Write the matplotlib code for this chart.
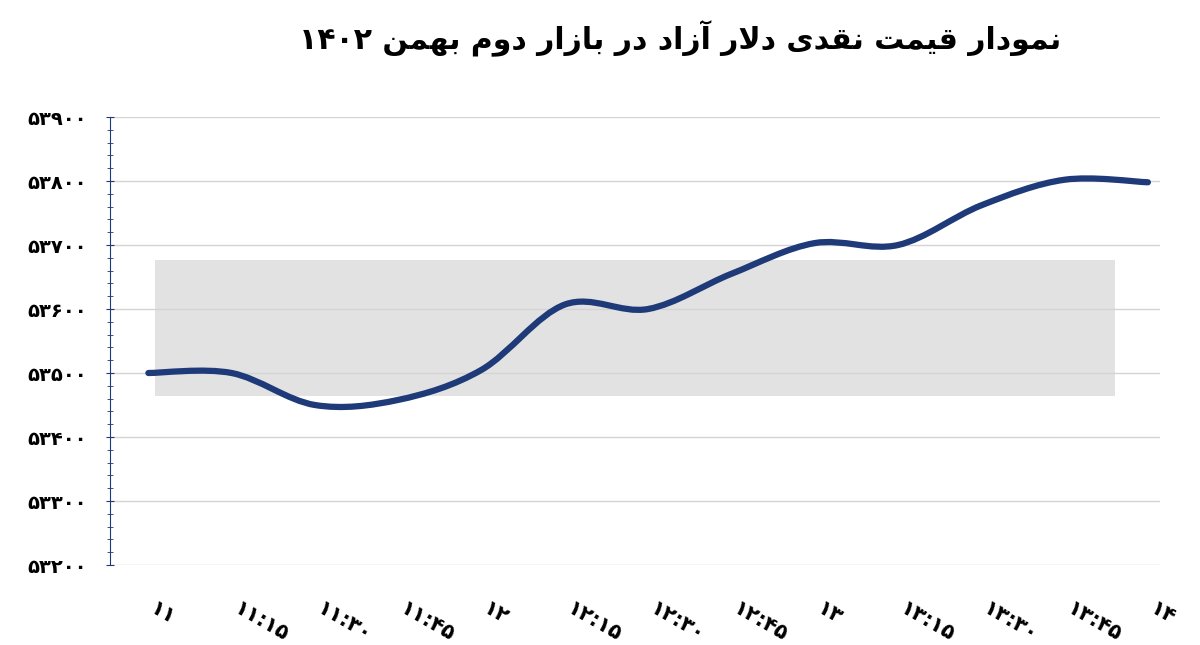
import matplotlib
matplotlib.use("Agg")
import matplotlib.pyplot as plt
from matplotlib.path import Path
from matplotlib.patches import PathPatch, Rectangle
from matplotlib.ticker import MultipleLocator
import numpy as np

times = ["۱۱", "۱۱:۱۵", "۱۱:۳۰", "۱۱:۴۵", "۱۲", "۱۲:۱۵", "۱۲:۳۰", "۱۲:۴۵",
         "۱۳", "۱۳:۱۵", "۱۳:۳۰", "۱۳:۴۵", "۱۴"]
prices = [53500, 53500, 53450, 53458, 53505, 53607, 53600, 53655,
          53703, 53700, 53762, 53802, 53798]
yticks = [53200, 53300, 53400, 53500, 53600, 53700, 53800, 53900]
title = "نمودار قیمت نقدی دلار آزاد در بازار دوم بهمن ۱۴۰۲"

FORMS = {  # iso, fin, ini, med
    'ا': (0xFE8D, 0xFE8E, None, None), 'آ': (0xFE81, 0xFE82, None, None),
    'ب': (0xFE8F, 0xFE90, 0xFE91, 0xFE92), 'ت': (0xFE95, 0xFE96, 0xFE97, 0xFE98),
    'د': (0xFEA9, 0xFEAA, None, None), 'ر': (0xFEAD, 0xFEAE, None, None),
    'ز': (0xFEAF, 0xFEB0, None, None), 'ق': (0xFED5, 0xFED6, 0xFED7, 0xFED8),
    'ل': (0xFEDD, 0xFEDE, 0xFEDF, 0xFEE0), 'م': (0xFEE1, 0xFEE2, 0xFEE3, 0xFEE4),
    'ن': (0xFEE5, 0xFEE6, 0xFEE7, 0xFEE8), 'ه': (0xFEE9, 0xFEEA, 0xFEEB, 0xFEEC),
    'و': (0xFEED, 0xFEEE, None, None), 'ی': (0xFEEF, 0xFEF0, 0xFEF3, 0xFEF4),
}

def shape_word(w):
    if w[0] not in FORMS:
        return w
    letters = []
    i = 0
    while i < len(w):
        if w[i] == 'ل' and i + 1 < len(w) and w[i+1] == 'ا':
            letters.append('LA'); i += 2
        else:
            letters.append(w[i]); i += 1
    def joins_next(c):
        return c != 'LA' and FORMS[c][2] is not None
    out = []
    for k, c in enumerate(letters):
        prev = k > 0 and joins_next(letters[k-1])
        nxt = k + 1 < len(letters) and joins_next(c)
        if c == 'LA':
            out.append(chr(0xFEFC if prev else 0xFEFB)); continue
        f = FORMS[c]
        if prev and nxt: code = f[3]
        elif prev: code = f[1]
        elif nxt: code = f[2]
        else: code = f[0]
        out.append(chr(code))
    return ''.join(out)[::-1]

def rtl(s):
    return ' '.join(shape_word(w) for w in s.split(' ')[::-1])

fig = plt.figure(figsize=(12, 6.45), dpi=100)
ax = fig.add_axes([0.092, 0.124, 0.875, 0.6946])
x = np.arange(len(prices))
y = np.array(prices, dtype=float)

verts = [(x[0], y[0])]
codes = [Path.MOVETO]
for i in range(len(x) - 1):
    p0 = (x[max(i-1, 0)], y[max(i-1, 0)])
    p1 = (x[i], y[i]); p2 = (x[i+1], y[i+1])
    p3 = (x[min(i+2, len(x)-1)], y[min(i+2, len(x)-1)])
    c1 = (p1[0] + (p2[0]-p0[0])/6, p1[1] + (p2[1]-p0[1])/6)
    c2 = (p2[0] - (p3[0]-p1[0])/6, p2[1] - (p3[1]-p1[1])/6)
    verts += [c1, c2, p2]; codes += [Path.CURVE4]*3
ax.add_patch(Rectangle((0.084, 53464), 11.52, 213, facecolor='#e2e2e2',
                       edgecolor='none', zorder=0.2))
ax.add_patch(PathPatch(Path(verts, codes), facecolor='none', edgecolor='#1f3a78',
                       lw=4.5, capstyle='round', zorder=3))

ax.set_xlim(-0.456, 12.15)
ax.set_ylim(53200, 53900)
ax.set_yticks(yticks)
ax.set_yticklabels([str(v).translate(str.maketrans("0123456789", "۰۱۲۳۴۵۶۷۸۹")) for v in yticks],
                   fontsize=14, fontweight='bold', family='DejaVu Sans')
ax.yaxis.set_minor_locator(MultipleLocator(20))
ax.grid(axis='y', color='#d4d4d4', lw=1, zorder=0.5)
for s in ['top', 'right', 'bottom']:
    ax.spines[s].set_visible(False)
ax.spines['left'].set_color('#1f3a78')
ax.tick_params(axis='y', which='both', color='#1f3a78', direction='inout', length=6, pad=14)
ax.tick_params(axis='y', which='minor', length=4)
ax.set_xticks(x)
ax.set_xticklabels(times, rotation=-30, ha='left', rotation_mode='anchor',
                   fontsize=15, fontweight='bold')
for lbl in ax.get_xticklabels():
    lbl.set_x(lbl.get_position()[0])
ax.tick_params(axis='x', length=0, pad=24)
import matplotlib.transforms as mtrans
off = mtrans.ScaledTranslation(0.08, 0, fig.dpi_scale_trans)
for lbl in ax.get_xticklabels():
    lbl.set_transform(lbl.get_transform() + off)
fig.text(0.567, 0.94, rtl(title), ha='center', va='center', fontsize=21.5,
         fontweight='bold', family='DejaVu Sans')
fig.savefig('out.png', dpi=100)
